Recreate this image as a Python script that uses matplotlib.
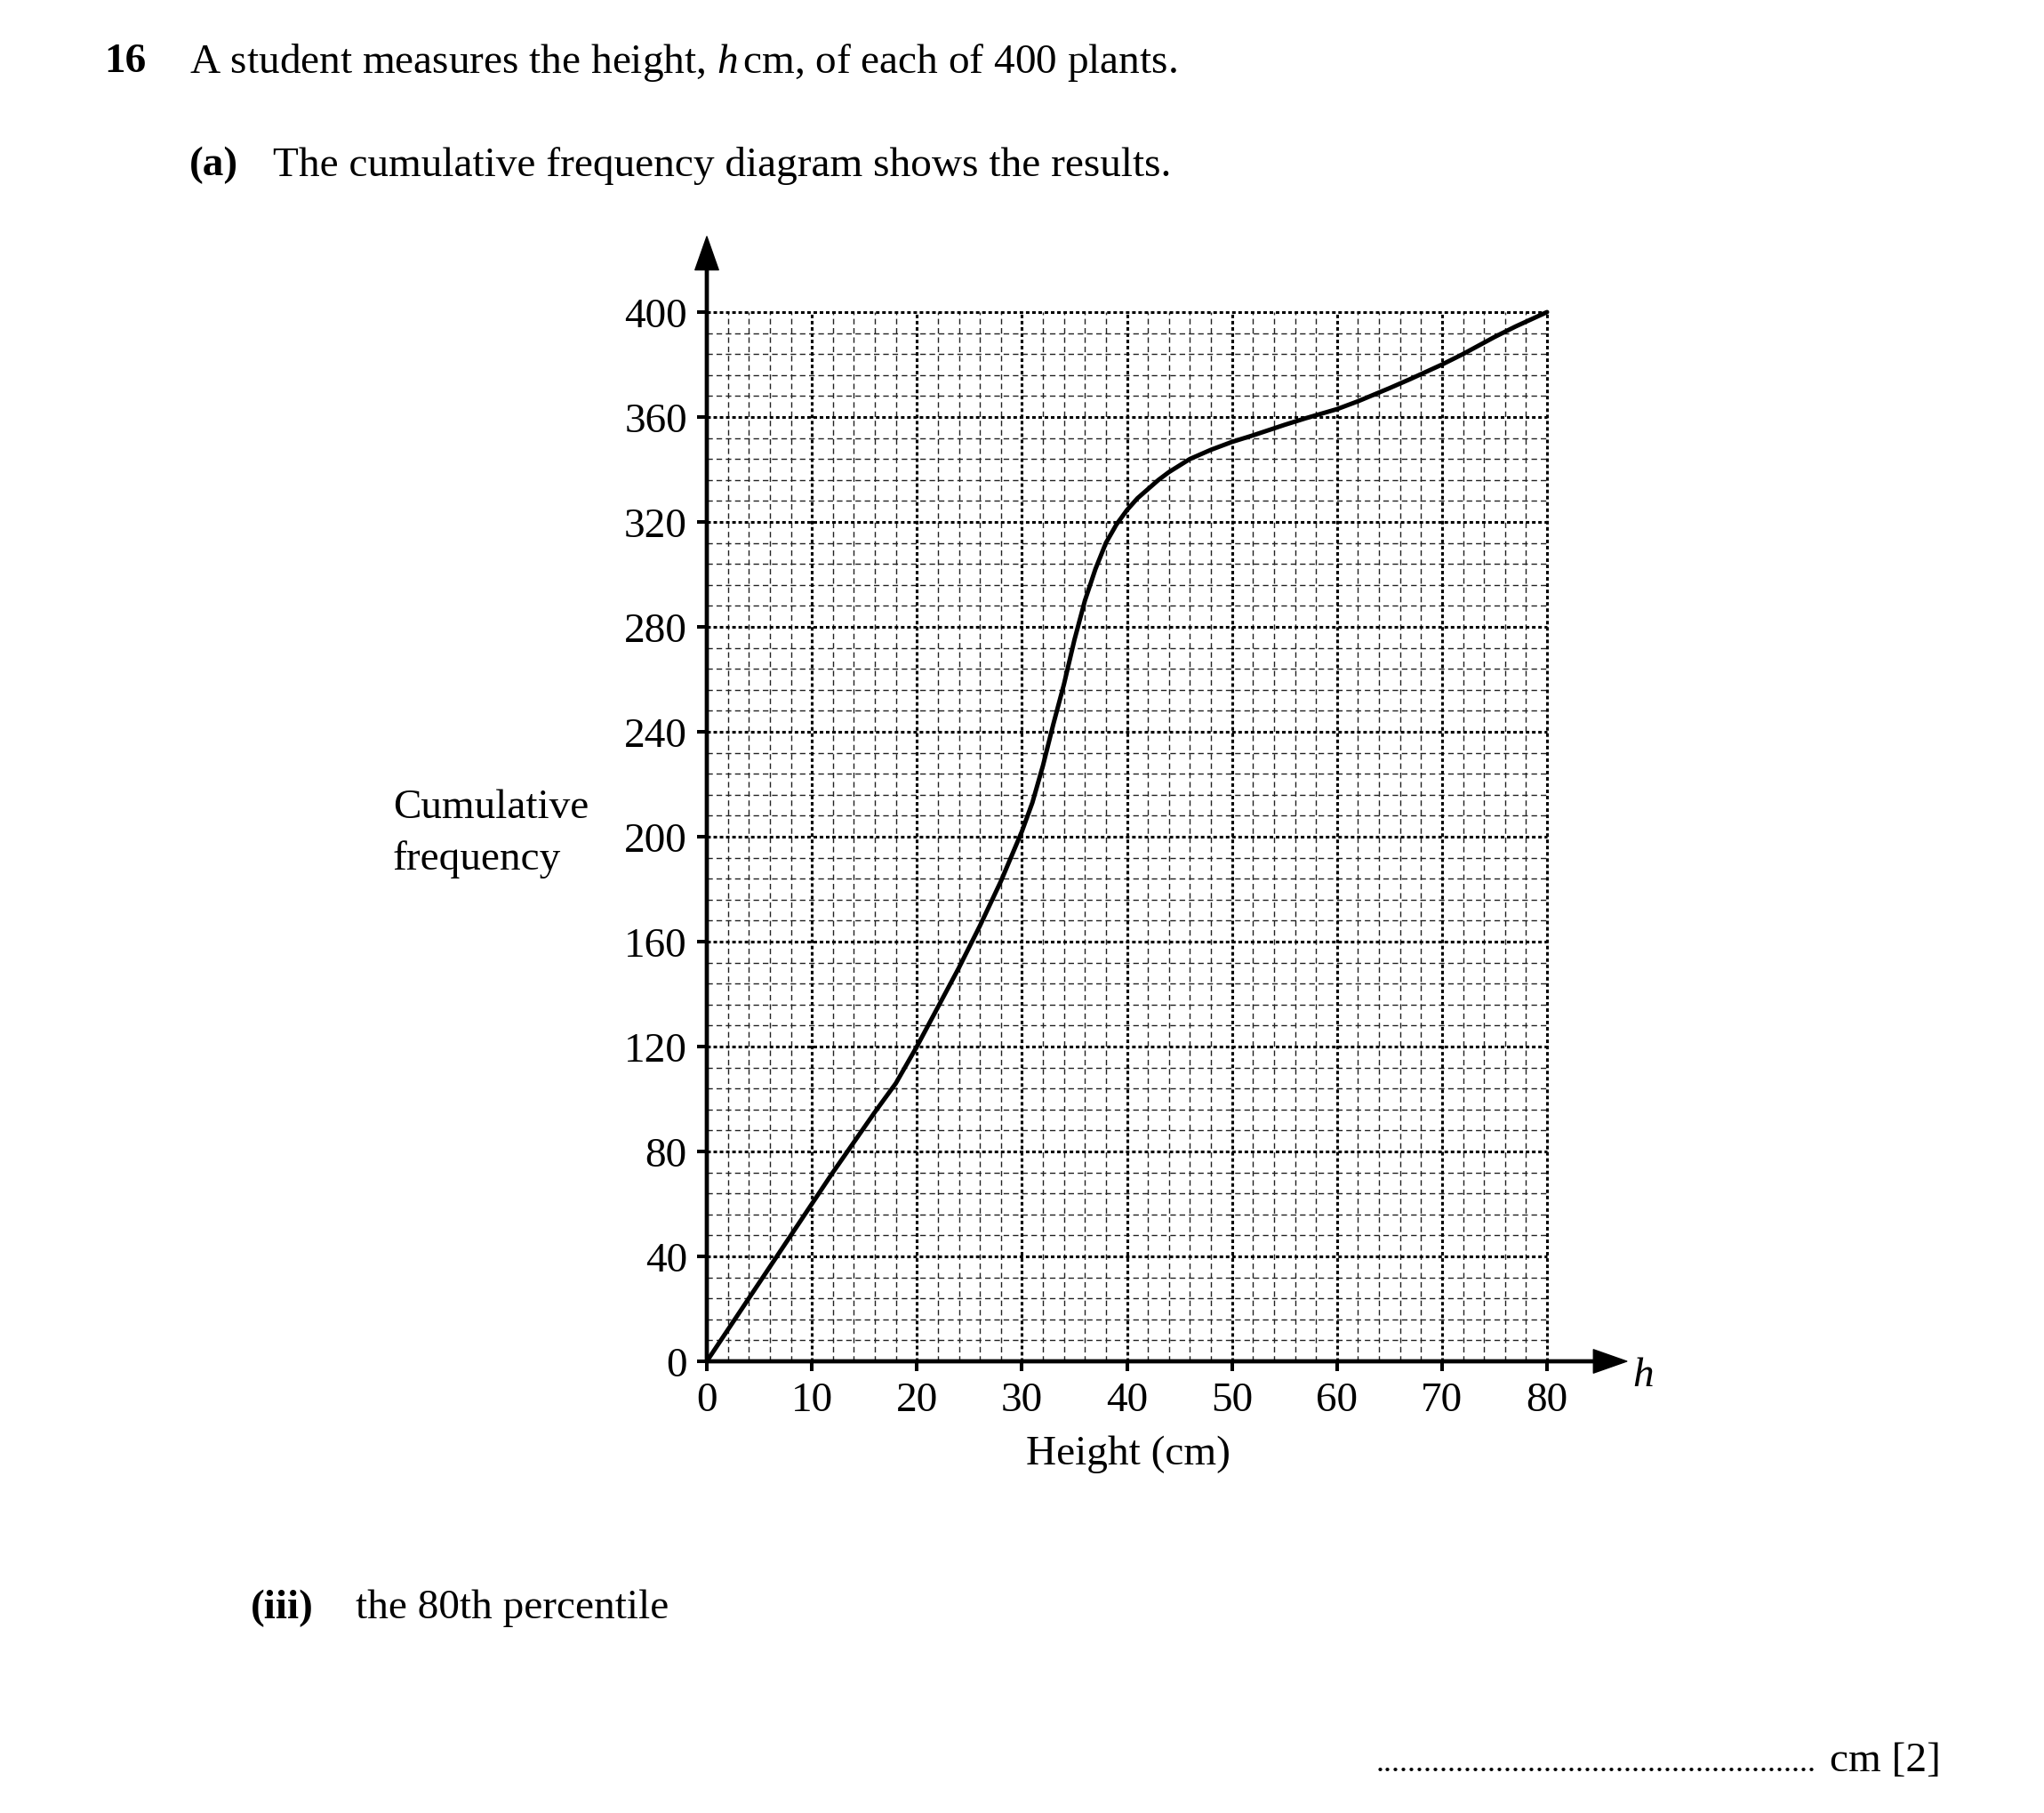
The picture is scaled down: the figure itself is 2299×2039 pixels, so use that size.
import matplotlib
matplotlib.use("Agg")
import matplotlib.pyplot as plt
import numpy as np

# cumulative frequency curve
height = [0, 4, 8, 12, 16, 18, 20, 22, 24, 26, 28, 30, 31, 32, 33, 34, 35,
          36, 37, 38, 39, 40, 41, 42, 43, 44, 45, 46, 48, 50, 52, 55, 57,
          60, 62, 65, 67, 70, 72, 75, 77, 80]
cum_freq = [0, 24, 48, 72, 95, 106, 120, 135, 150, 166, 183, 202, 213, 227,
            243, 258, 275, 290, 302, 312, 319, 324.5, 329, 332.5, 336, 339,
            341.5, 344, 347.5, 350.5, 353, 357, 359.5, 363, 366, 371, 374.5,
            380, 384, 390.5, 394.5, 400]

x_ticks = [0, 10, 20, 30, 40, 50, 60, 70, 80]
y_ticks = [0, 40, 80, 120, 160, 200, 240, 280, 320, 360, 400]

plt.rcParams['font.family'] = ['Liberation Serif', 'DejaVu Serif']
plt.rcParams['mathtext.fontset'] = 'custom'
plt.rcParams['mathtext.rm'] = 'Liberation Serif'
plt.rcParams['mathtext.it'] = 'Liberation Serif:italic'

W, H = 2299, 2040
fig = plt.figure(figsize=(W / 100, H / 100), dpi=100)
fs = 34


def px(x, y):
    return x / W, 1 - y / H


ax = fig.add_axes([795 / W, 1 - 1532 / H, (1740 - 795) / W, (1532 - 352) / H])
ax.set_xlim(0, 80)
ax.set_ylim(0, 400)
for s in ax.spines.values():
    s.set_visible(False)

# graph paper
minor_x = [v for v in range(0, 81, 2) if v % 10]
minor_y = [v for v in range(0, 401, 8) if v % 40]
ax.vlines(minor_x, 0, 400, colors='#222222', lw=1.0, linestyles=[(0, (4.5, 3))], zorder=1)
ax.hlines(minor_y, 0, 80, colors='#222222', lw=1.0, linestyles=[(0, (4.5, 3))], zorder=1)
ax.vlines(x_ticks[1:], 0, 400, colors='black', lw=2.2, linestyles=[(0, (1.3, 1.0))], zorder=2, clip_on=False)
ax.hlines(y_ticks[1:], 0, 80, colors='black', lw=2.2, linestyles=[(0, (1.3, 1.0))], zorder=2, clip_on=False)

# axes with arrow heads
arrow = dict(facecolor='black', edgecolor='black', width=2.4, headwidth=19,
             headlength=27, shrink=0)
ax.annotate('', xy=(87.6, 0), xytext=(0, 0), arrowprops=arrow,
            annotation_clip=False, zorder=5)
ax.annotate('', xy=(0, 428.8), xytext=(0, 0), arrowprops=arrow,
            annotation_clip=False, zorder=5)

ax.plot(height, cum_freq, color='black', lw=3.6, solid_joinstyle='round',
        solid_capstyle='round', zorder=4, clip_on=False)

ax.set_xticks(x_ticks)
ax.set_yticks(y_ticks)
ax.tick_params(direction='out', length=8, width=2.9, labelsize=fs, pad=8,
               color='black')

fig.text(*px(1269, 1636), 'Height (cm)', fontsize=fs, ha='center', va='center')
fig.text(*px(1848, 1548), 'h', fontsize=fs, style='italic', ha='center', va='center')
fig.text(*px(442, 909), 'Cumulative', fontsize=fs, ha='left', va='center')
fig.text(*px(442, 967), 'frequency', fontsize=fs, ha='left', va='center')

fig.text(*px(117, 70), '16', fontsize=fs, weight='bold', ha='left', va='center')
fig.text(*px(213, 70), 'A student measures the height, $h\\,$cm, of each of 400 plants.',
         fontsize=fs, ha='left', va='center')
fig.text(*px(213, 186), '(a)', fontsize=fs, weight='bold', ha='left', va='center')
fig.text(*px(307, 186), 'The cumulative frequency diagram shows the results.',
         fontsize=fs, ha='left', va='center')
fig.text(*px(282, 1809), '(iii)', fontsize=fs, weight='bold', ha='left', va='center')
fig.text(*px(400, 1809), 'the 80th percentile', fontsize=fs, ha='left', va='center')
fig.text(*px(1548, 1992), '.' * 55, fontsize=26, ha='left', va='baseline')
fig.text(*px(2058, 1992), 'cm [2]', fontsize=fs, ha='left', va='baseline')

fig.savefig('out.png', dpi=100)
